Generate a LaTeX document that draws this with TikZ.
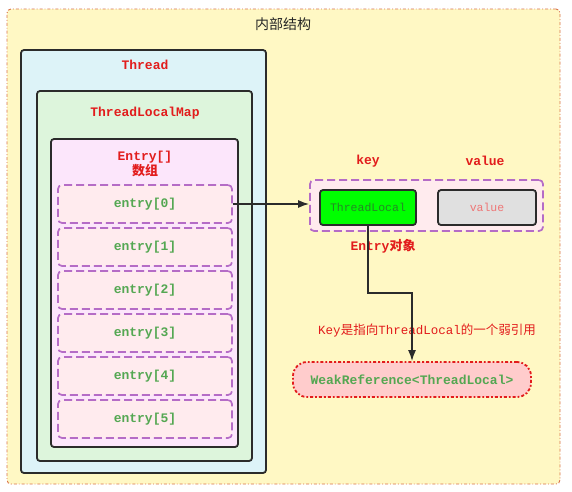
\documentclass[tikz,border=0pt]{standalone}
\usepackage{fontspec}
\setmonofont{Liberation Mono}
\newfontfamily\cjk{Noto Sans CJK SC}
\usepackage{xcolor}
\usepackage{tikz}
\usetikzlibrary{arrows.meta,positioning,calc}

\definecolor{bgyellow}{HTML}{FFF8C4}
\definecolor{bgborder}{HTML}{D9734A}
\definecolor{threadfill}{HTML}{DDF3F8}
\definecolor{mapfill}{HTML}{DDF5DC}
\definecolor{arrfill}{HTML}{FCE6FB}
\definecolor{entryfill}{HTML}{FFEBEE}
\definecolor{entryline}{HTML}{B56CC6}
\definecolor{lblred}{HTML}{E21C1C}
\definecolor{lblgreen}{HTML}{54A752}
\definecolor{darkline}{HTML}{2B2B2B}
\definecolor{weakfill}{HTML}{FFCCCC}

\tikzset{
  box/.style={draw=darkline,line width=1.8pt,rounded corners=3pt,inner sep=0pt},
  dashbox/.style={draw=entryline,line width=1.7pt,dash pattern=on 8pt off 4pt,rounded corners=4pt,inner sep=0pt},
  redlbl/.style={font=\ttfamily\bfseries\fontsize{13}{15}\selectfont,text=lblred},
  greenlbl/.style={font=\ttfamily\bfseries\fontsize{13}{15}\selectfont,text=lblgreen},
  conn/.style={draw=darkline,line width=1.5pt},
}

\begin{document}
\begin{tikzpicture}[x=1pt,y=-1pt]
  \useasboundingbox (0,0) rectangle (572,491);
  \fill[white] (0,0) rectangle (572,491);
  % outer frame
  \node[draw=bgborder,fill=bgyellow,line width=0.9pt,dash dot,rounded corners=4pt,
        minimum width=553pt,minimum height=475pt,inner sep=0pt] (outer) at (283.5,246.5) {};
  \node[font=\cjk\fontsize{14}{16}\selectfont,text=black!85] (title) at (283,24) {内部结构};

  % Thread / ThreadLocalMap / Entry[]
  \node[box,fill=threadfill,minimum width=245pt,minimum height=423pt] (thread) at (143.5,261.5) {};
  \node[redlbl] (threadlbl) at (145,65) {Thread};
  \node[box,fill=mapfill,minimum width=215pt,minimum height=370pt] (map) at (144.5,276) {};
  \node[redlbl] (maplbl) at (145,113) {ThreadLocalMap};
  \node[box,fill=arrfill,minimum width=187pt,minimum height=308pt] (arr) at (144.5,293) {};
  \node[redlbl,align=center] (arrlbl) at (145,164) {Entry[]\\{\cjk 数组}};

  \foreach \i in {0,...,5}
    \node[dashbox,fill=entryfill,greenlbl,minimum width=174pt,minimum height=38pt]
      (e\i) at (145,204+43*\i) {entry[\i]};

  % Entry object
  \node[dashbox,fill=entryfill,minimum width=233pt,minimum height=51pt] (entryobj) at (426.5,205.5) {};
  \node[box,fill=green,minimum width=96pt,minimum height=35pt,
        font=\ttfamily\fontsize{11.5}{13}\selectfont,text=black!45!green!70!gray] (key) at (368,207.5) {ThreadLocal};
  \node[box,fill=black!12,minimum width=98pt,minimum height=35pt,
        font=\ttfamily\fontsize{11.5}{13}\selectfont,text=lblred!60] (val) at (487,207.5) {value};
  \node[redlbl] (keylbl) at (368,161) {key};
  \node[redlbl] (vallbl) at (485,161) {value};
  \node[redlbl] (objlbl) at (383,246) {Entry{\cjk 对象}};

  % weak reference
  \node[draw=lblred,fill=weakfill,line width=1.8pt,dash dot,rounded corners=14pt,
        minimum width=238pt,minimum height=35pt,inner sep=0pt,greenlbl] (weak) at (412,379.5) {WeakReference<ThreadLocal>};
  \node[font=\fontsize{12.5}{14}\selectfont,text=lblred] (note) at (427,331)
       {\ttfamily Key{\cjk 是指向}ThreadLocal{\cjk 的一个弱引用}};

  % connectors
  \coordinate (bend) at (412,293);
  \draw[conn,-{Latex[length=11pt,width=8pt]}] (e0.east) -- (e0.east -| entryobj.west);
  \draw[conn,-{Latex[length=11pt,width=8pt]}] (key.south) |- (bend) -- (weak.north);
\end{tikzpicture}
\end{document}
